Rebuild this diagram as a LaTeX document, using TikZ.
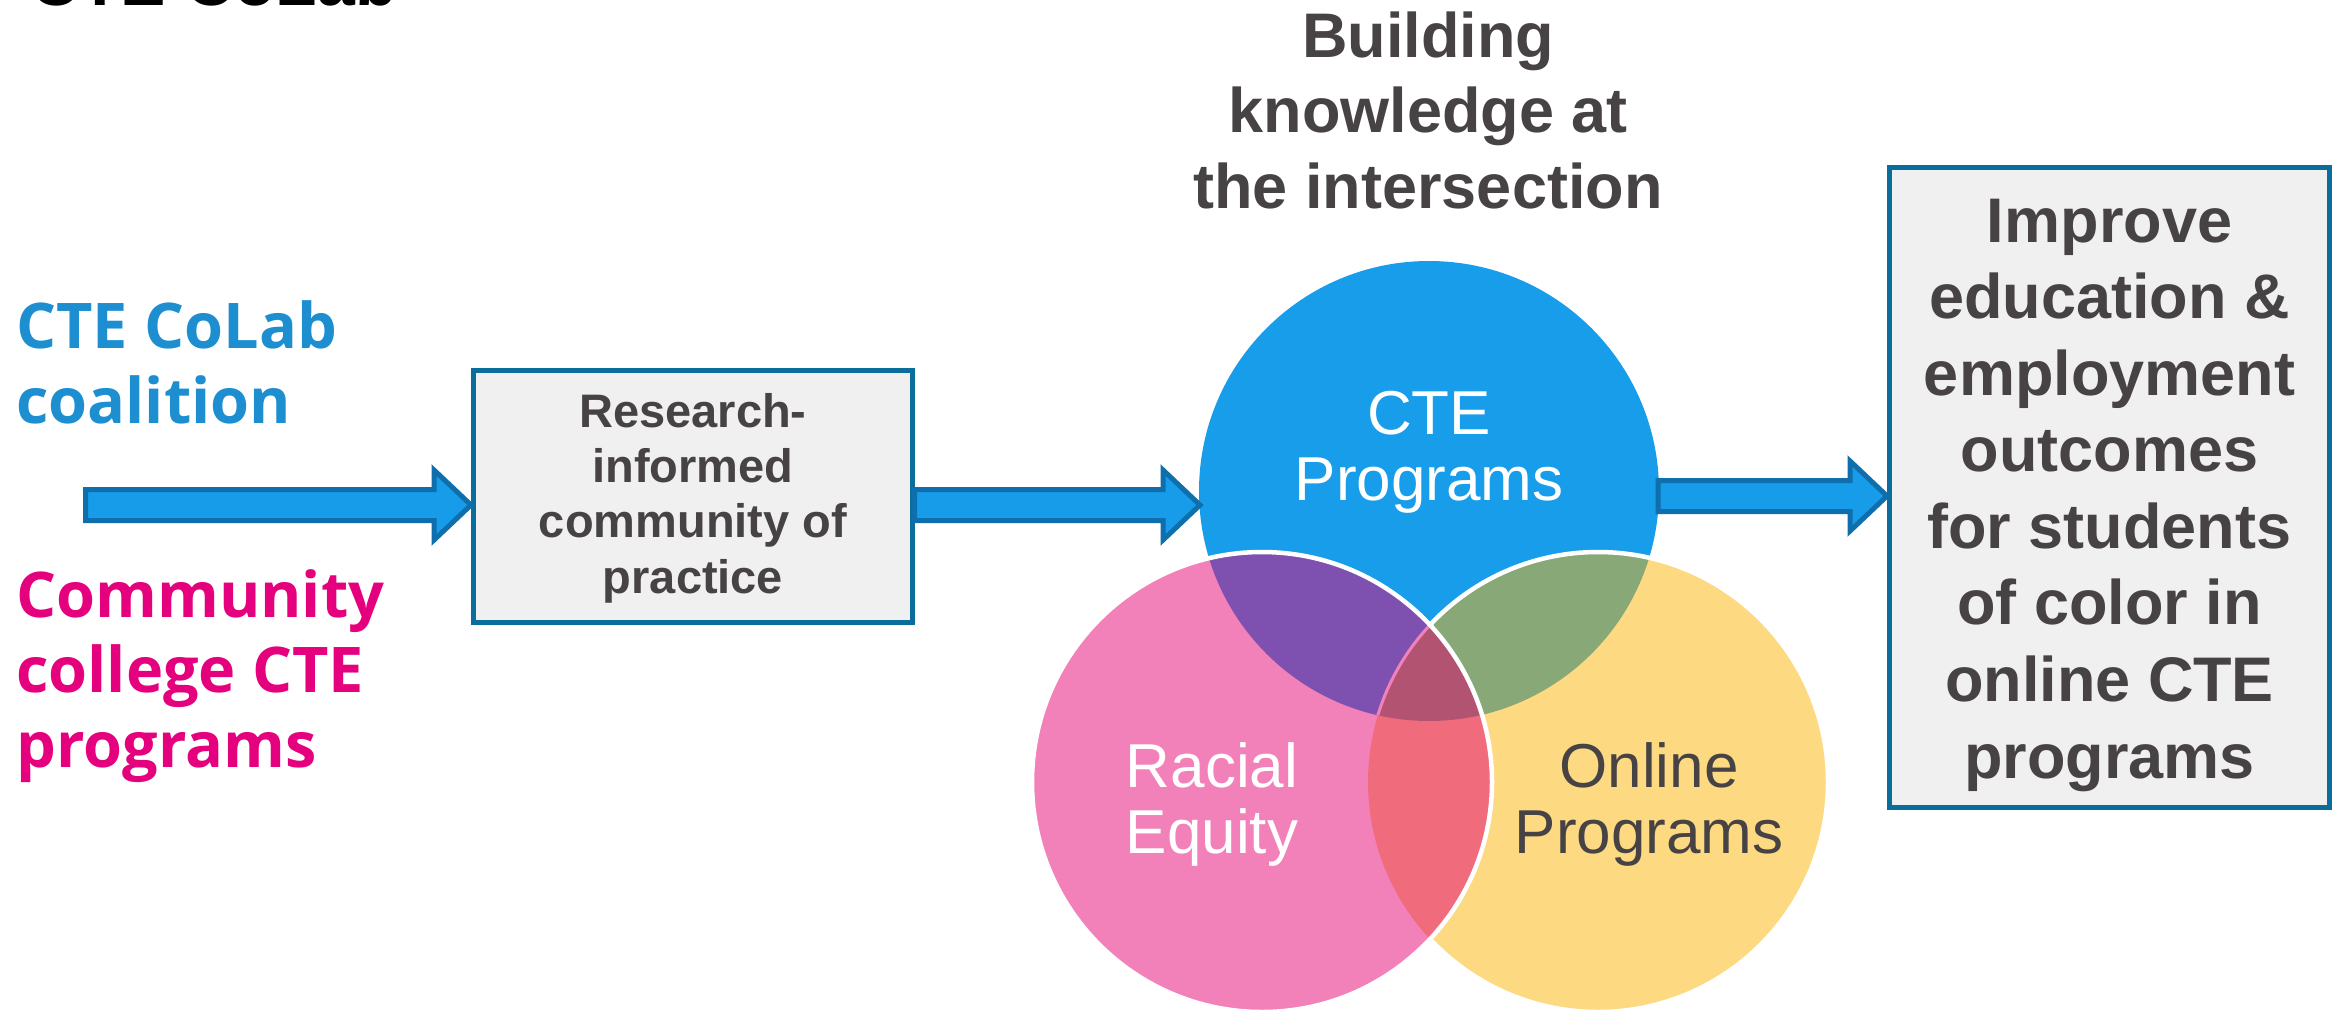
\documentclass[tikz,border=0pt]{standalone}
\usepackage{fontspec}
\setmainfont{Liberation Sans}
\newfontfamily\opensans{Open Sans}
\usetikzlibrary{calc}
\definecolor{cblue}{HTML}{189DEA}
\definecolor{cpink}{HTML}{F281B9}
\definecolor{cyellow}{HTML}{FDD982}
\definecolor{cpurple}{HTML}{7E50B0}
\definecolor{cgreen}{HTML}{88A877}
\definecolor{cred}{HTML}{F06C7C}
\definecolor{ctriple}{HTML}{B35372}
\definecolor{arrowfill}{HTML}{179CE9}
\definecolor{arrowedge}{HTML}{0F6FAC}
\definecolor{boxfill}{HTML}{F0F0F0}
\definecolor{boxedge}{HTML}{0A6E9C}
\definecolor{txtgray}{HTML}{474345}
\definecolor{colabblue}{HTML}{1D8FD0}
\definecolor{cmagenta}{HTML}{E5007D}
\newcommand\fatarrow[2]{%
  \draw[fatarrowsty] let \p1=(#1), \p2=(#2) in
    (\x1,\y1+15.5) -- (\x2-37,\y1+15.5) -- (\x2-37,\y1+35) -- (\x2,\y1)
    -- (\x2-37,\y1-35) -- (\x2-37,\y1-15.5) -- (\x1,\y1-15.5) -- cycle;}
\def\cB{(1429,491) circle[radius=230pt]}
\def\cP{(1262,782) circle[radius=230pt]}
\def\cY{(1598,782) circle[radius=230pt]}
\begin{document}
\begin{tikzpicture}[x=1pt,y=-1pt,
  fatarrowsty/.style={fill=arrowfill, draw=arrowedge, line width=5pt, line join=miter},
  boxsty/.style={draw=boxedge, fill=boxfill, line width=5pt, inner sep=0pt},
  graybold/.style={text=txtgray, font=\bfseries, align=center, inner sep=0pt},
  circlabel/.style={align=center, inner sep=0pt, font=\fontsize{62}{66}\selectfont},
  lefttext/.style={align=left, inner sep=0pt, anchor=base west, font=\opensans\bfseries\fontsize{63}{75}\selectfont},
  ringline/.style={white, line width=4.5pt}]
\useasboundingbox (0,0) rectangle (2344,1013);
% title (cut off at top)
\node[anchor=base west, inner sep=0pt, font=\bfseries\fontsize{68}{80}\selectfont] (title) at (30,5) {CTE CoLab};
% left texts (anchor base = last line)
\node[lefttext, text=colabblue] (colab) at (16,423) {CTE CoLab\\coalition};
\node[lefttext, text=cmagenta] (cc) at (16,767) {Community\\college CTE\\programs};
% boxes
\node[boxsty, minimum width=438.5pt, minimum height=252pt] (box1) at (692.75,496) {};
\node[graybold, anchor=base, font=\bfseries\fontsize{47}{55.3}\selectfont] (box1text) at (693,593) {Research-\\informed\\community of\\practice};
\node[boxsty, minimum width=440pt, minimum height=640pt] (box2) at (2109.5,487.5) {};
\node[graybold, anchor=base, font=\bfseries\fontsize{63}{76.57}\selectfont] (box2text) at (2109.5,778) {Improve\\education \&\\employment\\outcomes\\for students\\of color in\\online CTE\\programs};
% heading above venn
\node[graybold, anchor=base, font=\bfseries\fontsize{63}{75.5}\selectfont] (heading) at (1428,208) {Building\\knowledge at\\the intersection};
% venn diagram
\fill[cblue] \cB;
\fill[cyellow] \cY;
\begin{scope}\clip \cY; \fill[cgreen] \cB; \end{scope}
\draw[ringline] \cY;
\fill[cpink] \cP;
\begin{scope}
  \clip \cP;
  \fill[cpurple] \cB;
  \fill[cred] \cY;
  \clip \cB;
  \fill[ctriple] \cY;
  \draw[cpink, line width=3pt] \cY;
\end{scope}
\draw[ringline] \cP;
\coordinate (cteWest) at (1200,505);
\coordinate (cteEast) at (1658,496);
\coordinate (a1start) at (85.5,505);
\node[circlabel, text=white, anchor=base] (ctelab) at (1429,500) {CTE\\Programs};
\node[circlabel, text=white, anchor=base] (racelab) at (1212,853) {Racial\\Equity};
\node[circlabel, text=txtgray, anchor=base] (onlinelab) at (1649,853) {Online\\Programs};
% arrows
\fatarrow{a1start}{box1.west}
\fatarrow{box1.east |- a1start}{cteWest}
\fatarrow{cteEast}{box2.west}
\end{tikzpicture}
\end{document}
